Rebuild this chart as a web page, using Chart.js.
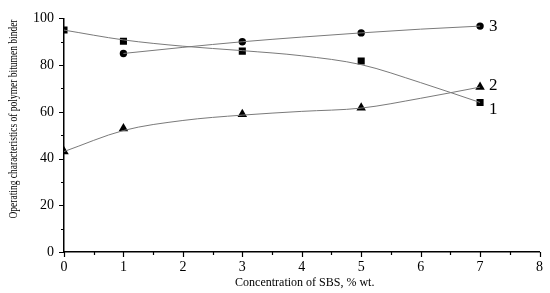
<!DOCTYPE html>
<html>
<head>
<meta charset="utf-8">
<script src="https://cdn.jsdelivr.net/npm/chart.js@4/dist/chart.umd.min.js"></script>
<style>
  html, body { margin: 0; padding: 0; background: #fff; }
  #wrap { width: 550px; height: 293px; }
</style>
</head>
<body>
<div id="wrap"><canvas id="myChart"></canvas></div>
<script>
// measured points
const xPoints = [0, 1, 3, 5, 7];
const series1 = [95, 90.2, 86, 81.8, 64];      // squares, curve 1
const series2 = [43, 52.9, 59, 61.8, 70.6];    // triangles, curve 2
const xPoints3 = [1, 3, 5, 7];
const series3 = [85, 90, 93.8, 96.7];          // circles, curve 3

// fitted curves at whole x values
const xCurve = [0, 1, 2, 3, 4, 5, 6, 7];
const curve1 = [95, 90.8, 88.1, 86.2, 84, 80.2, 72.5, 64];
const curve2 = [43, 52, 56.3, 58.6, 60.2, 61.6, 65.8, 70.6];
const xCurve3 = [1, 2, 3, 4, 5, 6, 7];
const curve3 = [85, 87.6, 90, 92, 93.8, 95.4, 96.7];

const curveLabels = ['1', '2', '3'];
const yTitle = 'Operating characteristics of polymer bitumen binder';
const xTitle = 'Concentration of SBS, % wt.';

const xy = (xs, ys) => xs.map((x, i) => ({ x: x, y: ys[i] }));

const FONT = '"Liberation Serif", "Times New Roman", serif';

const curveStyle = {
    showLine: true,
    borderColor: '#7a7a7a',
    borderWidth: 1,
    pointRadius: 0,
    cubicInterpolationMode: 'monotone',
    fill: false,
};
const markStyle = {
    showLine: false,
    backgroundColor: '#000',
    borderColor: '#000',
    borderWidth: 0,
};

// minor ticks, axis titles and curve numbers
const extras = {
    id: 'extras',
    afterDraw(chart) {
        const ctx = chart.ctx;
        const xs = chart.scales.x, ys = chart.scales.y;
        const a = chart.chartArea;
        ctx.save();
        ctx.strokeStyle = '#000';
        ctx.lineWidth = 1.2;
        ctx.beginPath();
        for (let v = 0; v <= 100; v += 10) {
            const y = Math.round(ys.getPixelForValue(v)) + 0.5;
            const len = v % 20 === 0 ? 5 : 3;
            ctx.moveTo(a.left - len, y);
            ctx.lineTo(a.left, y);
        }
        for (let v = 0; v <= 8; v += 0.5) {
            const x = Math.round(xs.getPixelForValue(v)) + 0.5;
            const len = v % 1 === 0 ? 5 : 3;
            ctx.moveTo(x, a.bottom);
            ctx.lineTo(x, a.bottom + len);
        }
        ctx.stroke();

        ctx.fillStyle = '#000';
        ctx.textAlign = 'center';
        ctx.textBaseline = 'middle';
        ctx.font = '12px ' + FONT;
        ctx.fillText(xTitle, (a.left + a.right) / 2 + 3, 283);
        ctx.save();
        ctx.translate(14, 119);
        ctx.rotate(-Math.PI / 2);
        ctx.fillText(yTitle, 0, 0, 199);
        ctx.restore();

        // curve numbers at the last point of each curve
        ctx.textAlign = 'left';
        ctx.font = '17px ' + FONT;
        const ends = [[7, series1[4], 7], [7, series2[4], -2], [7, series3[3], 0]];
        ends.forEach((e, i) => {
            ctx.fillText(curveLabels[i], xs.getPixelForValue(e[0]) + 9, ys.getPixelForValue(e[1]) + e[2]);
        });
        ctx.restore();
    }
};

new Chart(document.getElementById('myChart'), {
    type: 'scatter',
    data: {
        datasets: [
            Object.assign({ data: xy(xCurve, curve1) }, curveStyle),
            Object.assign({ data: xy(xCurve, curve2) }, curveStyle),
            Object.assign({ data: xy(xCurve3, curve3) }, curveStyle),
            Object.assign({ data: xy(xPoints, series1), pointStyle: 'rect', pointRadius: 5 }, markStyle),
            Object.assign({ data: xy(xPoints, series2), pointStyle: 'triangle', pointRadius: 5.5 }, markStyle),
            Object.assign({ data: xy(xPoints3, series3), pointStyle: 'circle', pointRadius: 3.7 }, markStyle),
        ]
    },
    options: {
        responsive: true,
        maintainAspectRatio: false,
        animation: false,
        events: [],
        layout: { padding: { top: 18, right: 10, left: 0, bottom: 0 } },
        plugins: {
            legend: { display: false },
            tooltip: { enabled: false },
        },
        scales: {
            x: {
                type: 'linear',
                min: 0, max: 8,
                grid: { display: false, drawTicks: false },
                border: { display: true, color: '#000', width: 1.5 },
                ticks: { stepSize: 1, color: '#000', padding: 7, font: { family: FONT, size: 14 } },
                afterFit(scale) { scale.height = 41; },
            },
            y: {
                min: 0, max: 100,
                grid: { display: false, drawTicks: false },
                border: { display: true, color: '#000', width: 1.5 },
                ticks: { stepSize: 20, color: '#000', padding: 10, font: { family: FONT, size: 14 } },
                afterFit(scale) { scale.width = 64; },
            }
        }
    },
    plugins: [extras]
});
</script>
</body>
</html>
